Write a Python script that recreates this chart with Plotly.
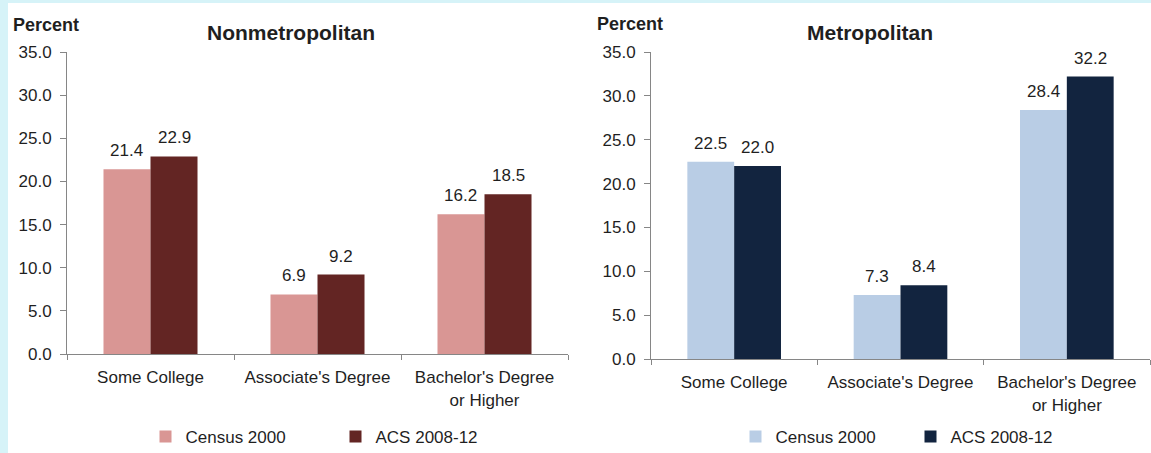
import plotly.graph_objects as go

# ---- data ----
categories = ["Some College", "Associate's Degree", "Bachelor's Degree<br>or Higher"]
series_names = ["Census 2000", "ACS 2008-12"]
nonmetro_census2000 = [21.4, 6.9, 16.2]
nonmetro_acs2008_12 = [22.9, 9.2, 18.5]
metro_census2000 = [22.5, 7.3, 28.4]
metro_acs2008_12 = [22.0, 8.4, 32.2]
y_tick_values = [0, 5, 10, 15, 20, 25, 30, 35]
panel_titles = ["Nonmetropolitan", "Metropolitan"]
y_axis_label = "Percent"

# ---- style ----
W, H = 1151, 453
FONT = "Arial, 'Liberation Sans', sans-serif"
TXT = "#1f1f1f"
AXIS = "#868686"
nonmetro_colors = ["#d99694", "#632523"]
metro_colors = ["#b9cde5", "#12243f"]
BARGAP = 0.437
FS = 17

def px_x(p):
    return p / W

def px_y(p):
    return 1 - p / H

left_dom_x = [px_x(67), px_x(568)]
left_dom_y = [px_y(354), px_y(52)]
right_dom_x = [px_x(651), px_x(1150)]
right_dom_y = [px_y(359), px_y(52)]

fig = go.Figure()

panels = [
    ("x", "y", "legend", nonmetro_colors, [nonmetro_census2000, nonmetro_acs2008_12], left_dom_x),
    ("x2", "y2", "legend2", metro_colors, [metro_census2000, metro_acs2008_12], right_dom_x),
]

annotations = []
for xa, ya, lg, colors, series, dom in panels:
    plot_w = (dom[1] - dom[0]) * W
    bar_w = plot_w / len(categories) * (1 - BARGAP) / 2
    for k, (name, vals) in enumerate(zip(series_names, series)):
        fig.add_trace(go.Bar(
            x=categories, y=vals, name=name,
            marker=dict(color=colors[k], line=dict(width=0)),
            xaxis=xa, yaxis=ya, legend=lg,
            hoverinfo="skip",
        ))
        shift = (k - 0.5) * bar_w
        for i, v in enumerate(vals):
            annotations.append(dict(
                x=i, y=v, xref=xa, yref=ya, text=f"{v:.1f}",
                showarrow=False, xanchor="center", yanchor="bottom",
                xshift=shift, yshift=7,
                font=dict(family=FONT, size=FS, color=TXT),
            ))

# panel titles and y-axis labels
annotations += [
    dict(x=px_x(291), y=px_y(32), xref="paper", yref="paper", text=f"<b>{panel_titles[0]}</b>",
         showarrow=False, xanchor="center", yanchor="middle",
         font=dict(family=FONT, size=21, color=TXT)),
    dict(x=px_x(870), y=px_y(32), xref="paper", yref="paper", text=f"<b>{panel_titles[1]}</b>",
         showarrow=False, xanchor="center", yanchor="middle",
         font=dict(family=FONT, size=21, color=TXT)),
    dict(x=px_x(11), y=px_y(25), xref="paper", yref="paper", text=f"<b>{y_axis_label}</b>",
         showarrow=False, xanchor="left", yanchor="middle",
         font=dict(family=FONT, size=18, color=TXT)),
    dict(x=px_x(595), y=px_y(24), xref="paper", yref="paper", text=f"<b>{y_axis_label}</b>",
         showarrow=False, xanchor="left", yanchor="middle",
         font=dict(family=FONT, size=18, color=TXT)),
]

# light cyan frame strips (top and left)
shapes = [
    dict(type="rect", xref="paper", yref="paper", x0=0, x1=1, y0=px_y(3), y1=1,
         fillcolor="#d6f3f8", line=dict(width=0), layer="below"),
    dict(type="rect", xref="paper", yref="paper", x0=0, x1=px_x(8), y0=0, y1=1,
         fillcolor="#d6f3f8", line=dict(width=0), layer="below"),
]

xaxis_common = dict(
    type="category", showline=True, linecolor=AXIS, linewidth=1,
    ticks="outside", tickson="boundaries", ticklen=5, tickcolor=AXIS,
    tickfont=dict(family=FONT, size=FS, color=TXT), showgrid=False, zeroline=False,
    fixedrange=True, ticklabelstandoff=8,
)
yaxis_common = dict(
    range=[0, 35], tickvals=y_tick_values, tickformat=".1f",
    showline=True, linecolor=AXIS, linewidth=1,
    ticks="outside", ticklen=6, tickcolor=AXIS,
    tickfont=dict(family=FONT, size=FS, color=TXT), showgrid=False, zeroline=False,
    fixedrange=True, ticklabelstandoff=5,
)

legend_common = dict(
    orientation="h", yanchor="middle", xanchor="center",
    font=dict(family=FONT, size=FS, color=TXT),
    bgcolor="rgba(0,0,0,0)", entrywidthmode="pixels",
    itemclick=False, itemdoubleclick=False,
)

fig.update_layout(
    width=W, height=H, autosize=False,
    margin=dict(l=0, r=0, t=0, b=0, pad=0, autoexpand=False),
    paper_bgcolor="white", plot_bgcolor="white",
    barmode="group", bargap=BARGAP, bargroupgap=0,
    showlegend=True,
    xaxis=dict(domain=left_dom_x, anchor="y", **xaxis_common),
    yaxis=dict(domain=left_dom_y, anchor="x", **yaxis_common),
    xaxis2=dict(domain=right_dom_x, anchor="y2", **xaxis_common),
    yaxis2=dict(domain=right_dom_y, anchor="x2", **yaxis_common),
    legend=dict(x=(left_dom_x[0] + left_dom_x[1]) / 2 + px_x(18), y=px_y(437),
                entrywidth=145, **legend_common),
    legend2=dict(x=(right_dom_x[0] + right_dom_x[1]) / 2 + px_x(10), y=px_y(437),
                 entrywidth=130, **legend_common),
    annotations=annotations,
    shapes=shapes,
    font=dict(family=FONT, color=TXT),
)

post = """
document.body.style.margin='0';
document.body.style.overflow='hidden';
"""

fig.write_html(
    "out.html",
    config={"displayModeBar": False},
    post_script=post,
)
